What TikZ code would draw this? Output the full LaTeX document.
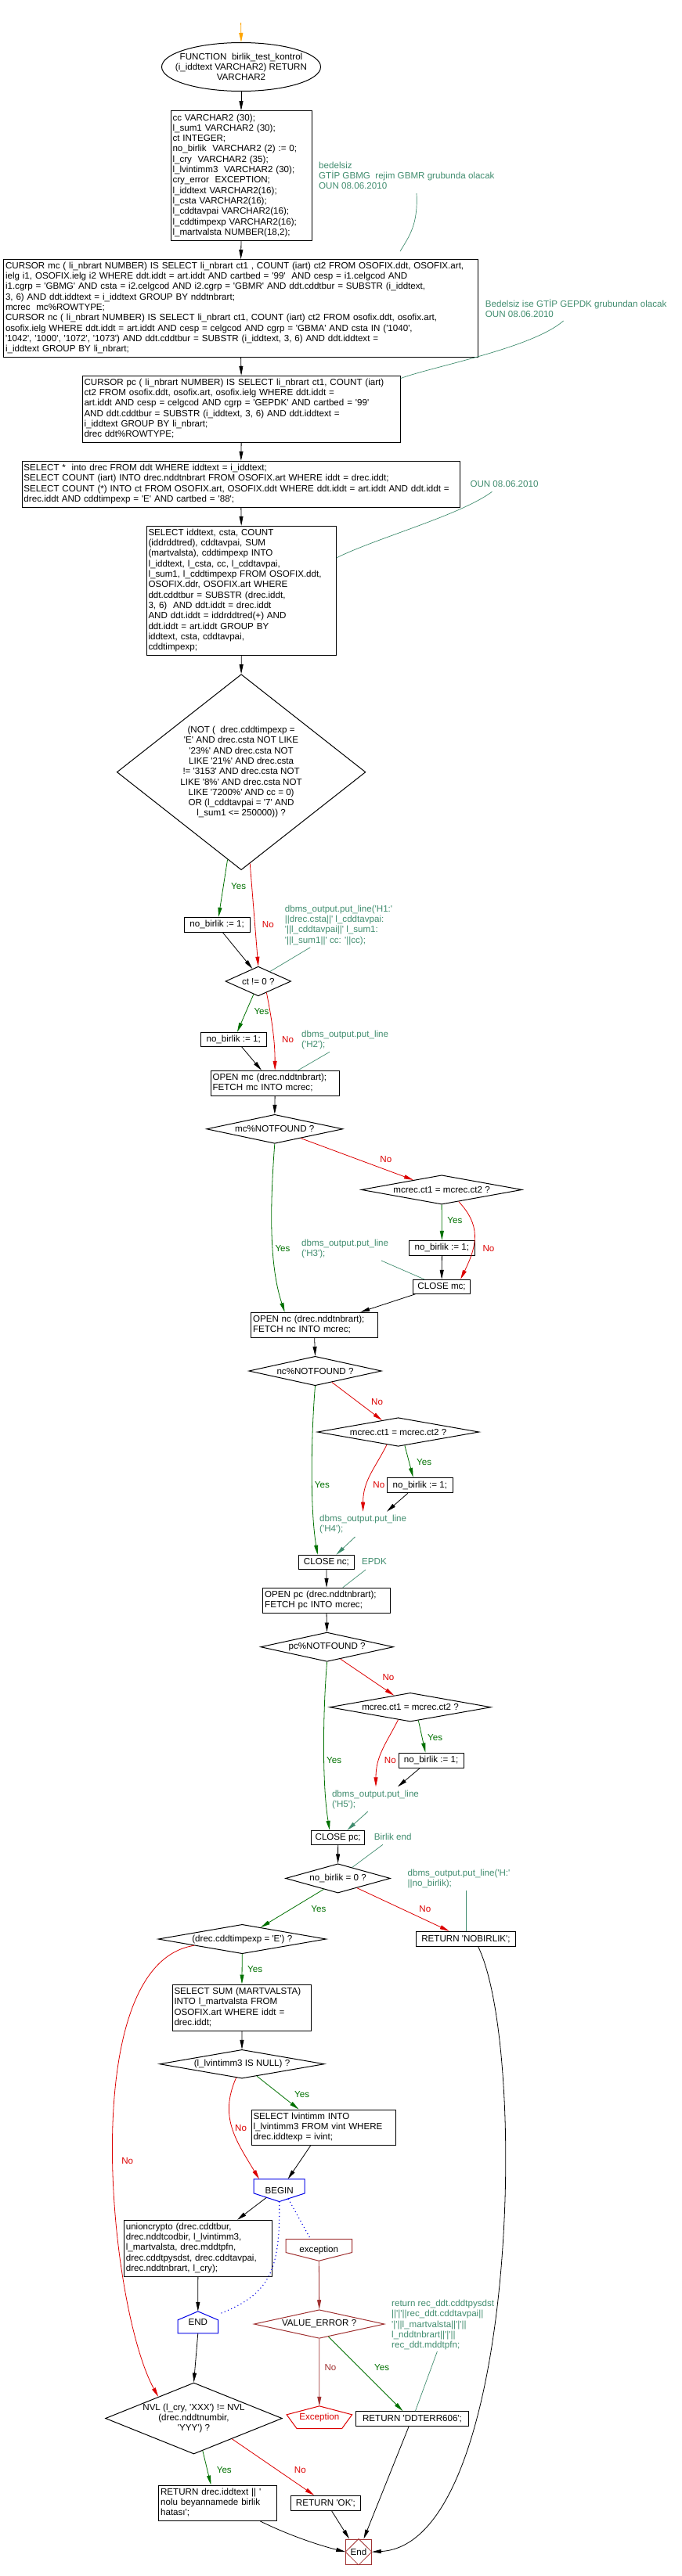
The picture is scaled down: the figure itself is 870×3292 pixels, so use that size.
\documentclass[tikz,border=0pt]{standalone}
\usepackage{fontspec}
\setmainfont{Liberation Sans}[Ligatures=TeXOff]
\usetikzlibrary{arrows.meta,shapes.geometric,calc}
\definecolor{cmt}{RGB}{64,140,110}
\definecolor{yesg}{RGB}{0,112,0}
\definecolor{nor}{RGB}{220,0,0}
\definecolor{dred}{RGB}{160,50,50}
\definecolor{bblue}{RGB}{0,0,230}
\definecolor{orng}{RGB}{255,165,0}
\newcommand\TL[1]{\begin{tabular}{@{}l@{}}#1\end{tabular}}
\newcommand\bxL[6]{%
\pgfmathsetmacro\bxh{#5-#3}\pgfmathsetmacro\bxtw{#4-#2-5}%
\pgfmathsetmacro\bxcx{(#2+#4)/2}\pgfmathsetmacro\bxcy{(#3+#5)/2}%
\node[box, align=left, minimum height=\bxh pt, text width=\bxtw pt] (#1) at (\bxcx,\bxcy) {\TL{#6}};}
\newcommand\bxC[6]{%
\pgfmathsetmacro\bxh{#5-#3}\pgfmathsetmacro\bxw{#4-#2}%
\pgfmathsetmacro\bxcx{(#2+#4)/2}\pgfmathsetmacro\bxcy{(#3+#5)/2}%
\node[box, align=center, minimum height=\bxh pt, minimum width=\bxw pt] (#1) at (\bxcx,\bxcy) {#6};}
\newcommand\dm[7][]{%
\pgfmathsetmacro\dmr{#5/#6}%
\node[dia,#1,minimum width=#5pt,minimum height=#6pt,aspect=\dmr] (#2) at (#3,#4) {#7};}
\begin{document}
\begin{tikzpicture}[x=1pt,y=-1pt,
 every node/.style={font=\fontsize{11.6pt}{13.3pt}\selectfont},
 box/.style={draw, rectangle, inner xsep=2.5pt, inner ysep=0pt, line width=1pt},
 dia/.style={draw, diamond, align=center, inner sep=0pt, line width=1pt},
 cmnt/.style={text=cmt, align=left, inner sep=0pt, anchor=north west},
 lbl/.style={inner sep=0pt},
 yl/.style={lbl, text=yesg}, nl/.style={lbl, text=nor},
 lnw/.style={line width=0.8pt},
 arr/.style={lnw, -{Triangle[length=12pt,width=5pt]}},
 yarr/.style={arr, yesg}, narr/.style={arr, nor}, barr/.style={arr, black},
 cml/.style={line width=0.7pt, cmt},
 dots/.style={bblue, line width=1.1pt, dash pattern=on 1.1pt off 3.5pt}]
\useasboundingbox (0,0) rectangle (870,3292);

% ---------------- nodes ----------------
\coordinate (st) at (307.6,29);
\node[shape=ellipse, draw, line width=1pt, inner xsep=-18pt, inner ysep=0pt, minimum width=203pt, minimum height=62pt, align=center] (b0) at (308,85.5) {FUNCTION\ \ birlik\_test\_kontrol\\(i\_iddtext VARCHAR2) RETURN\\VARCHAR2};

\bxL{b1}{218}{141.7}{398}{307.3}{cc VARCHAR2 (30);\\ l\_sum1 VARCHAR2 (30);\\ ct INTEGER;\\ no\_birlik\ \ VARCHAR2 (2) := 0;\\ l\_cry\ \ VARCHAR2 (35);\\ l\_lvintimm3\ \ VARCHAR2 (30);\\ cry\_error\ \ EXCEPTION;\\ l\_iddtext VARCHAR2(16);\\ l\_csta VARCHAR2(16);\\ l\_cddtavpai VARCHAR2(16);\\ l\_cddtimpexp VARCHAR2(16);\\ l\_martvalsta NUMBER(18,2);}

\bxL{b2}{4.5}{331.7}{610.7}{456}{CURSOR mc ( li\_nbrart NUMBER) IS SELECT li\_nbrart ct1 , COUNT (iart) ct2 FROM OSOFIX.ddt, OSOFIX.art,\\ ielg i1, OSOFIX.ielg i2 WHERE ddt.iddt = art.iddt AND cartbed = '99'\ \ AND cesp = i1.celgcod AND\\ i1.cgrp = 'GBMG' AND csta = i2.celgcod AND i2.cgrp = 'GBMR' AND ddt.cddtbur = SUBSTR (i\_iddtext,\\ 3, 6) AND ddt.iddtext = i\_iddtext GROUP BY nddtnbrart;\\ mcrec\ \ mc\%ROWTYPE;\\ CURSOR nc ( li\_nbrart NUMBER) IS SELECT li\_nbrart ct1, COUNT (iart) ct2 FROM osofix.ddt, osofix.art,\\ osofix.ielg WHERE ddt.iddt = art.iddt AND cesp = celgcod AND cgrp = 'GBMA' AND csta IN ('1040',\\ '1042', '1000', '1072', '1073') AND ddt.cddtbur = SUBSTR (i\_iddtext, 3, 6) AND ddt.iddtext =\\ i\_iddtext GROUP BY li\_nbrart;}

\bxL{b3}{105}{480.3}{511.3}{565.3}{CURSOR pc ( li\_nbrart NUMBER) IS SELECT li\_nbrart ct1, COUNT (iart)\\ ct2 FROM osofix.ddt, osofix.art, osofix.ielg WHERE ddt.iddt =\\ art.iddt AND cesp = celgcod AND cgrp = 'GEPDK' AND cartbed = '99'\\ AND ddt.cddtbur = SUBSTR (i\_iddtext, 3, 6) AND ddt.iddtext =\\ i\_iddtext GROUP BY li\_nbrart;\\ drec ddt\%ROWTYPE;}

\bxL{b4}{28}{589.3}{587.7}{648.3}{SELECT *\ \ into drec FROM ddt WHERE iddtext = i\_iddtext;\\ SELECT COUNT (iart) INTO drec.nddtnbrart FROM OSOFIX.art WHERE iddt = drec.iddt;\\ SELECT COUNT (*) INTO ct FROM OSOFIX.art, OSOFIX.ddt WHERE ddt.iddt = art.iddt AND ddt.iddt =\\ drec.iddt AND cddtimpexp = 'E' AND cartbed = '88';}

\bxL{b5}{187}{672.3}{429.4}{837.3}{SELECT iddtext, csta, COUNT\\ (iddrddtred), cddtavpai, SUM\\ (martvalsta), cddtimpexp INTO\\ l\_iddtext, l\_csta, cc, l\_cddtavpai,\\ l\_sum1, l\_cddtimpexp FROM OSOFIX.ddt,\\ OSOFIX.ddr, OSOFIX.art WHERE\\ ddt.cddtbur = SUBSTR (drec.iddt,\\ 3, 6)\ \ AND ddt.iddt = drec.iddt\\ AND ddt.iddt = iddrddtred(+) AND\\ ddt.iddt = art.iddt GROUP BY\\ iddtext, csta, cddtavpai,\\ cddtimpexp;}

\dm{d1}{308.1}{986.7}{317.6}{250}{(NOT (\ \ drec.cddtimpexp =\\'E' AND drec.csta NOT LIKE\\'23\%' AND drec.csta NOT\\LIKE '21\%' AND drec.csta\\!= '3153' AND drec.csta NOT\\LIKE '8\%' AND drec.csta NOT\\LIKE '7200\%' AND cc = 0)\\OR (l\_cddtavpai = '7' AND\\l\_sum1 <= 250000)) ?}

\bxC{nb1}{235}{1172.3}{319.3}{1191.3}{no\_birlik := 1;}
\dm{d2}{329.8}{1254}{83.6}{37.7}{ct != 0 ?}
\bxC{nb2}{256.5}{1319.3}{340}{1337.3}{no\_birlik := 1;}
\bxL{omc}{269}{1368.3}{433.3}{1400}{OPEN mc (drec.nddtnbrart);\\ FETCH mc INTO mcrec;}
\dm{d3}{350.8}{1442.8}{174}{37}{mc\%NOTFOUND ?}
\dm{d4}{564.1}{1520.4}{205.4}{37.3}{mcrec.ct1 = mcrec.ct2 ?}
\bxC{nb3}{522.6}{1585.3}{606.2}{1604.3}{no\_birlik := 1;}
\bxC{cmc}{527.6}{1635.3}{600.6}{1653.3}{CLOSE mc;}
\bxL{onc}{320.5}{1677.3}{482.8}{1709.3}{OPEN nc (drec.nddtnbrart);\\ FETCH nc INTO mcrec;}
\dm{d5}{402.5}{1752}{169.5}{37.4}{nc\%NOTFOUND ?}
\dm{d6}{508.6}{1830}{206.5}{36.6}{mcrec.ct1 = mcrec.ct2 ?}
\bxC{nb4}{494.5}{1888.3}{578.2}{1907.7}{no\_birlik := 1;}
\bxC{cnc}{381.5}{1987.3}{452.4}{2005.3}{CLOSE nc;}
\bxL{opc}{335.7}{2029.3}{498.4}{2061.3}{OPEN pc (drec.nddtnbrart);\\ FETCH pc INTO mcrec;}
\dm{d7}{417.6}{2104.7}{169.6}{37.3}{pc\%NOTFOUND ?}
\dm{d8}{524}{2181.7}{206}{36.7}{mcrec.ct1 = mcrec.ct2 ?}
\bxC{nb5}{509}{2240}{592.2}{2259.3}{no\_birlik := 1;}
\bxC{cpc}{397.4}{2339.3}{465.9}{2357.3}{CLOSE pc;}
\dm{d9}{431.6}{2400.4}{133.7}{37.3}{no\_birlik = 0 ?}
\bxC{rnb}{531.6}{2468.3}{658.4}{2487.3}{RETURN 'NOBIRLIK';}
\dm{d10}{309.3}{2478}{214.5}{37.4}{(drec.cddtimpexp = 'E') ?}
\bxL{sum}{220}{2536}{397.9}{2595.7}{SELECT SUM (MARTVALSTA)\\ INTO l\_martvalsta FROM\\ OSOFIX.art WHERE iddt =\\ drec.iddt;}
\dm{d11}{309}{2637.7}{210.5}{36.7}{(l\_lvintimm3 IS NULL) ?}
\bxL{lvb}{321}{2696}{505.1}{2741.3}{SELECT lvintimm INTO\\ l\_lvintimm3 FROM vint WHERE\\ drec.iddtexp = ivint;}
\node[inner sep=0pt, minimum width=64.6pt, minimum height=28.3pt] (beg) at (356.7,2799.15) {BEGIN};
\draw[bblue, line width=1pt] (beg.north west) -- (beg.north east) -- ([yshift=10.6pt]beg.south east) -- (beg.south) -- ([yshift=10.6pt]beg.south west) -- cycle;
\bxL{uni}{158.3}{2837.3}{347.4}{2909.3}{unioncrypto (drec.cddtbur,\\ drec.nddtcodbir, l\_lvintimm3,\\ l\_martvalsta, drec.mddtpfn,\\ drec.cddtpysdst, drec.cddtavpai,\\ drec.nddtnbrart, l\_cry);}
\node[inner sep=0pt, minimum width=51pt, minimum height=27.7pt] (endp) at (252.8,2967.85) {END};
\draw[bblue, line width=1pt] (endp.north) -- ([yshift=-11pt]endp.north east) -- (endp.south east) -- (endp.south west) -- ([yshift=-11pt]endp.north west) -- cycle;
\node[inner sep=0pt, minimum width=84.2pt, minimum height=27.3pt] (exc) at (407.3,2875.35) {exception};
\draw[dred, line width=1pt] (exc.north west) -- (exc.north east) -- ([yshift=10.7pt]exc.south east) -- (exc.south) -- ([yshift=10.7pt]exc.south west) -- cycle;
\dm[draw=dred]{d12}{407.7}{2970}{166.6}{36.6}{VALUE\_ERROR ?}
\node[inner sep=0pt, minimum width=83.1pt, minimum height=28.3pt, text=nor] (exc2) at (407.85,3089.15) {Exception};
\draw[nor, line width=1pt] (exc2.north) -- ([yshift=-11pt]exc2.north east) -- ([xshift=-12.9pt]exc2.south east) -- ([xshift=12.9pt]exc2.south west) -- ([yshift=-11pt]exc2.north west) -- cycle;
\bxC{ddt}{454.6}{3081.7}{598.4}{3100.7}{RETURN 'DDTERR606';}
\dm{d13}{247.5}{3090.5}{225.7}{91}{NVL (l\_cry, 'XXX') != NVL\\(drec.nddtnumbir,\\'YYY') ?}
\bxL{ret1}{202.6}{3176}{353.6}{3221.3}{RETURN drec.iddtext || '\\ nolu beyannamede birlik\\ hatası';}
\bxC{ok}{371.6}{3189.3}{460.3}{3208.3}{RETURN 'OK';}
\node[draw=dred, line width=1pt, inner sep=0pt, minimum width=32.6pt, minimum height=32.3pt] (fin) at (458,3261.15) {End};
\draw[dred, line width=0.8pt] (fin.north) -- (fin.east) -- (fin.south) -- (fin.west) -- cycle;

% ---------------- comments ----------------
\node[cmnt] (c1) at (407,206.7) {bedelsiz\\GTİP GBMG\ \ rejim GBMR grubunda olacak\\OUN 08.06.2010};
\node[cmnt] (c2) at (619.7,382.3) {Bedelsiz ise GTİP GEPDK grubundan olacak\\OUN 08.06.2010};
\node[cmnt] (c3) at (600.3,614.3) {OUN 08.06.2010};
\node[cmnt] (h1) at (363.7,1156.7) {dbms\_output.put\_line('H1:'\\||drec.csta||' l\_cddtavpai:\\'||l\_cddtavpai||' l\_sum1:\\'||l\_sum1||' cc: '||cc);};
\node[cmnt] (h2) at (385,1316.7) {dbms\_output.put\_line\\('H2');};
\node[cmnt] (h3) at (385,1584) {dbms\_output.put\_line\\('H3');};
\node[cmnt] (h4) at (408,1935.7) {dbms\_output.put\_line\\('H4');};
\node[cmnt] (epdk) at (462,1991.7) {EPDK};
\node[cmnt] (h5) at (423.8,2287.7) {dbms\_output.put\_line\\('H5');};
\node[cmnt] (be) at (477.7,2343.3) {Birlik end};
\node[cmnt] (hh) at (520.4,2389) {dbms\_output.put\_line('H:'\\||no\_birlik);};
\node[cmnt] (rc) at (500,2939) {return rec\_ddt.cddtpysdst\\||'|'||rec\_ddt.cddtavpai||\\'|'||l\_martvalsta||'|'||\\l\_nddtnbrart||'|'||\\rec\_ddt.mddtpfn;};

% ---------------- labels ----------------
\node[yl] (l1) at (304.6,1132.7) {Yes};
\node[nl] (l2) at (342.4,1181.7) {No};
\node[yl] (l3) at (334,1292.7) {Yes};
\node[nl] (l4) at (367.6,1329) {No};
\node[nl] (l5) at (492.8,1481.7) {No};
\node[yl] (l6) at (580.9,1559.3) {Yes};
\node[nl] (l7) at (624,1595.7) {No};
\node[yl] (l8) at (361,1595.7) {Yes};
\node[nl] (l9) at (481.6,1791.7) {No};
\node[yl] (l10) at (541.7,1868.3) {Yes};
\node[nl] (l11) at (483.8,1897.7) {No};
\node[yl] (l12) at (411.4,1897.7) {Yes};
\node[nl] (l13) at (496,2143.3) {No};
\node[yl] (l14) at (555.7,2220.7) {Yes};
\node[nl] (l15) at (498.4,2250) {No};
\node[yl] (l16) at (426.6,2250) {Yes};
\node[yl] (l17) at (406.9,2440) {Yes};
\node[nl] (l18) at (542.8,2440) {No};
\node[yl] (l19) at (325.6,2516.7) {Yes};
\node[nl] (l20) at (162.7,2761.7) {No};
\node[yl] (l21) at (385.6,2676.7) {Yes};
\node[nl] (l22) at (307.6,2720) {No};
\node[lbl, text=dred] (l23) at (422,3026) {No};
\node[yl] (l24) at (487.6,3026) {Yes};
\node[yl] (l25) at (286.3,3156.7) {Yes};
\node[nl] (l26) at (383.4,3156.7) {No};

% ---------------- connectors ----------------
\draw[arr, orng] (st) -- (b0.north);
\draw[barr] (b0.south) -- (b1.north);
\draw[barr] (b1.south) -- (b2.north);
\draw[barr] (b2.south) -- (b3.north);
\draw[barr] (b3.south) -- (b4.north);
\draw[barr] (b4.south) -- (b5.north);
\draw[barr] (b5.south) -- (d1.north);
\draw[cml] ($(c1.north west)+(125,40.3)$) .. controls +(2,40) and +(12,-20) .. ([xshift=203.4pt,yshift=10pt]b2.north);
\draw[cml] ($(c2.north west)+(99.9,27.7)$) .. controls +(-40,35) and +(40,-15) .. ([yshift=-3.7pt]b3.north east);
\draw[cml] ($(c3.north west)+(28.2,14)$) .. controls +(-40,30) and +(50,-25) .. ([yshift=-41pt]b5.north east);

\draw[yarr] ($(d1.south)!0.11!(d1.west)$) -- ([xshift=2pt]nb1.north);
\draw[narr] ($(d1.south)!0.07!(d1.east)$) -- (d2.north);
\draw[barr] ([xshift=7.4pt]nb1.south) -- ($(d2.north)!0.175!(d2.west)$);
\draw[cml] ($(h1.north west)+(32.6,54)$) -- ($(d2.north)!0.355!(d2.east)$);
\draw[yarr] ($(d2.south)!0.14!(d2.west)$) -- ([xshift=4.7pt]nb2.north);
\draw[narr] ($(d2.south)!0.25!(d2.east)$) .. controls +(6,30) and +(0,-40) .. (omc.north);
\draw[barr] ([xshift=10.4pt]nb2.south) -- ([xshift=-17.2pt]omc.north);
\draw[cml] ($(h2.north west)+(36,27.6)$) -- ([xshift=29.4pt]omc.north);
\draw[barr] (omc.south) -- (d3.north);
\draw[narr] ($(d3.south)!0.38!(d3.east)$) -- ($(d4.north)!0.35!(d4.west)$);
\draw[yarr] (d4.south) -- (nb3.north);
\draw[narr] ($(d4.south)!0.21!(d4.east)$) .. controls +(28,30) and +(22,-45) .. ([xshift=24.1pt]cmc.north);
\draw[barr] (nb3.south) -- (cmc.north);
\draw[yarr] (d3.south) .. controls +(-6,80) and +(-20,-60) .. ([xshift=-38pt]onc.north);
\draw[cml] ($(h3.north west)+(102,27)$) -- ([xshift=-22.4pt]cmc.north);
\draw[barr] ([xshift=-33.7pt]cmc.south) -- ([xshift=58.6pt]onc.north);

\draw[barr] (onc.south) -- (d5.north);
\draw[narr] ($(d5.south)!0.25!(d5.east)$) -- ($(d6.north)!0.2!(d6.west)$);
\draw[yarr] ($(d6.south)!0.08!(d6.east)$) -- ([xshift=-8.75pt]nb4.north);
\draw[narr] ($(d6.south)!0.14!(d6.west)$) .. controls +(-15,30) and +(0,-40) .. ($(h4.north west)+(55.6,-4)$);
\draw[barr] ([xshift=-15.4pt]nb4.south) -- ($(h4.north west)+(86,-4)$);
\draw[arr, cmt] ($(h4.north west)+(45.5,28.3)$) -- ([xshift=12.5pt]cnc.north);
\draw[yarr] (d5.south) .. controls +(-5,60) and +(-10,-60) .. ([xshift=-11.3pt]cnc.north);
\draw[cml] ($(epdk.north west)+(5,14.3)$) -- ([xshift=20.7pt]opc.north);
\draw[barr] (cnc.south) -- (opc.north);

\draw[barr] (opc.south) -- (d7.north);
\draw[narr] ($(d7.south)!0.2!(d7.east)$) -- ($(d8.north)!0.2!(d8.west)$);
\draw[yarr] ($(d8.south)!0.1!(d8.east)$) -- ([xshift=-7.3pt]nb5.north);
\draw[narr] ($(d8.south)!0.15!(d8.west)$) .. controls +(-15,30) and +(0,-40) .. ($(h5.north west)+(56.2,-4.4)$);
\draw[barr] ([xshift=-14.6pt]nb5.south) -- ($(h5.north west)+(84.2,-4.4)$);
\draw[arr, cmt] ($(h5.north west)+(46,27.3)$) -- ([xshift=11.75pt]cpc.north);
\draw[yarr] (d7.south) .. controls +(-5,60) and +(-10,-60) .. ([xshift=-10.65pt]cpc.north);
\draw[cml] ($(be.north west)+(11.2,14)$) -- ($(d9.north)!0.27!(d9.east)$);
\draw[barr] (cpc.south) -- (d9.north);

\draw[yarr] ($(d9.south)!0.27!(d9.west)$) -- ($(d10.north)!0.22!(d10.east)$);
\draw[narr] ($(d9.south)!0.36!(d9.east)$) -- ([xshift=-21.3pt]rnb.north);
\draw[cml] ($(hh.north west)+(74.6,27)$) -- (rnb.north);
\draw[barr] ([xshift=15.7pt]rnb.south) .. controls +(64.3,132.7) and +(185.7,-10) .. (fin.east);

\draw[yarr] (d10.south) -- (sum.north);
\draw[narr] ($(d10.south)!0.57!(d10.west)$) .. controls +(-153.2,24) and +(-62.4,-113.2) .. ($(d13.north)!0.4!(d13.west)$);
\draw[barr] (sum.south) -- (d11.north);
\draw[yarr] ($(d11.south)!0.18!(d11.east)$) -- ([xshift=-31.55pt]lvb.north);
\draw[narr] ($(d11.south)!0.07!(d11.west)$) .. controls +(-22,50) and +(-30,-50) .. ([xshift=-25.7pt]beg.north);
\draw[barr] ([xshift=-16.25pt]lvb.south) -- ([xshift=10.9pt]beg.north);
\draw[barr] ($(beg.south)!0.5!([yshift=10.6pt]beg.south west)$) -- ([xshift=50.15pt]uni.north);
\draw[dots] (beg.south) .. controls +(1.3,86.7) and +(65,-25) .. ([xshift=2pt,yshift=-3pt]endp.north east);
\draw[dots] ($(beg.south)!0.35!([yshift=10.6pt]beg.south east)$) -- ([xshift=-10.6pt]exc.north);
\draw[barr] (uni.south) -- (endp.north);
\draw[barr] (endp.south) -- (d13.north);
\draw[arr, dred] (exc.south) -- (d12.north);
\draw[arr, dred] (d12.south) -- (exc2.north);
\draw[yarr] ($(d12.south)!0.14!(d12.east)$) -- ([xshift=-12pt]ddt.north);
\draw[cml] ($(rc.north west)+(58.4,66)$) -- ([xshift=3.9pt]ddt.north);
\draw[yarr] ($(d13.south)!0.1!(d13.east)$) -- ([xshift=-8.7pt]ret1.north);
\draw[narr] ($(d13.south)!0.43!(d13.east)$) -- ([xshift=-14.65pt]ok.north);
\draw[barr] ([xshift=54.1pt]ret1.south) .. controls +(30,15) and +(-40,-10) .. (fin.west);
\draw[barr] ([xshift=7.65pt]ok.south) -- ([xshift=-12pt]fin.north);
\draw[barr] ([xshift=-4.5pt]ddt.south) -- ([xshift=6.5pt]fin.north);
\end{tikzpicture}
\end{document}
